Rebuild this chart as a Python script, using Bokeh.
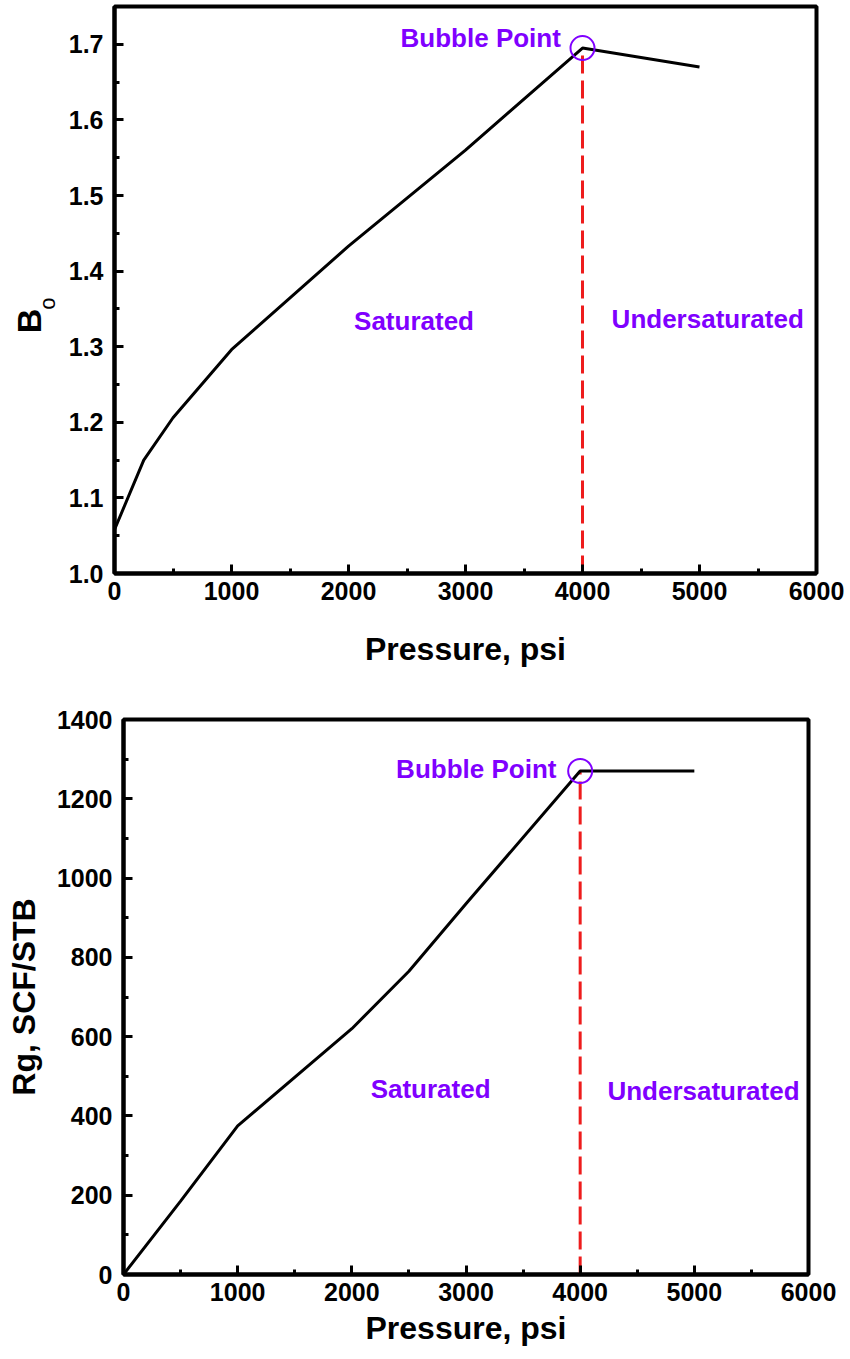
from bokeh.plotting import figure
from bokeh.layouts import column, row
from bokeh.models import FixedTicker, PrintfTickFormatter, Range1d
from bokeh.core.properties import value
from bokeh.embed import file_html
from bokeh.resources import INLINE

# Oil formation volume factor vs pressure
pressure_bo = [0, 250, 500, 1000, 2000, 3000, 4000, 5000]
bo_values = [1.058, 1.150, 1.206, 1.296, 1.433, 1.560, 1.695, 1.670]

# Solution gas-oil ratio vs pressure
pressure_rg = [0, 500, 1000, 2000, 2500, 3000, 4000, 5000]
rg_values = [0, 185, 375, 620, 765, 935, 1270, 1270]

# Bubble point
bubble_pressure = 4000
bubble_bo = 1.695
bubble_rg = 1270

# Tick positions
x_ticks = [0, 1000, 2000, 3000, 4000, 5000, 6000]
x_minor = [500, 1500, 2500, 3500, 4500, 5500]
bo_ticks = [1.0, 1.1, 1.2, 1.3, 1.4, 1.5, 1.6, 1.7]
bo_minor = [1.05, 1.15, 1.25, 1.35, 1.45, 1.55, 1.65]
rg_ticks = [0, 200, 400, 600, 800, 1000, 1200, 1400]
rg_minor = [100, 300, 500, 700, 900, 1100, 1300]

region_labels = ["Bubble Point", "Saturated", "Undersaturated"]

FONT = "Liberation Sans"
PURPLE = "#8000ff"
RED = "#ee1c1c"


def style(p, xt, xm, yt, ym, yfmt):
    p.outline_line_color = "black"
    p.outline_line_width = 4
    p.xgrid.visible = False
    p.ygrid.visible = False
    p.background_fill_color = "white"
    p.border_fill_color = "white"
    p.xaxis.ticker = FixedTicker(ticks=xt, minor_ticks=xm)
    p.yaxis.ticker = FixedTicker(ticks=yt, minor_ticks=ym)
    p.yaxis.formatter = PrintfTickFormatter(format=yfmt)
    for ax in (p.xaxis[0], p.yaxis[0]):
        ax.axis_line_width = 4
        ax.axis_line_color = "black"
        ax.major_tick_in = 9
        ax.major_tick_out = 0
        ax.major_tick_line_width = 3
        ax.minor_tick_in = 5
        ax.minor_tick_out = 0
        ax.minor_tick_line_width = 3
        ax.major_label_text_font = FONT
        ax.major_label_text_font_style = "bold"
        ax.major_label_text_font_size = "25px"
        ax.major_label_text_color = "black"
        ax.axis_label_text_font = FONT
        ax.axis_label_text_font_style = "bold"
        ax.axis_label_text_font_size = "32px"
        ax.axis_label_text_color = "black"
    p.xaxis.major_label_standoff = 8
    p.yaxis.major_label_standoff = 11


def purple_text(p, xs, ys, texts):
    p.text(x=xs, y=ys, text=texts, text_font=value(FONT), text_font_style="bold",
           text_font_size="26px", text_color=PURPLE, text_align="center",
           text_baseline="middle")


# ---- Bo chart ----
p1 = figure(width=785, height=680, output_backend="svg", toolbar_location=None,
            x_range=Range1d(0, 6000), y_range=Range1d(1.0, 1.75),
            min_border_left=44, min_border_right=34, min_border_top=6,
            min_border_bottom=107)
style(p1, x_ticks, x_minor, bo_ticks, bo_minor, "%.1f")
p1.xaxis.axis_label = "Pressure, psi"
p1.xaxis.axis_label_standoff = 28

p1.line([bubble_pressure, bubble_pressure], [1.0, bubble_bo], line_color=RED,
        line_width=3, line_dash="18 7")
p1.line(pressure_bo, bo_values, line_color="black", line_width=3)
p1.scatter([bubble_pressure], [bubble_bo], marker="circle", size=24,
           fill_color=None, line_color=PURPLE, line_width=2)
purple_text(p1, [3130, 2560, 5070], [1.708, 1.334, 1.337], region_labels)

# Narrow strip holding the rotated "B" with its subscript "o"
ylab = figure(width=65, height=680, output_backend="svg", toolbar_location=None,
              x_range=Range1d(0, 65), y_range=Range1d(1.0, 1.75),
              x_axis_location=None, y_axis_location=None,
              min_border_left=0, min_border_right=0, min_border_top=6,
              min_border_bottom=107)
ylab.outline_line_color = None
ylab.xgrid.visible = False
ylab.ygrid.visible = False
ylab.text(x=[28], y=[1.334], text=["B"], angle=1.5708, text_font=value(FONT),
          text_font_style="bold", text_font_size="34px", text_color="black",
          text_align="center", text_baseline="middle")
ylab.text(x=[47], y=[1.357], text=["o"], angle=1.5708, text_font=value(FONT),
          text_font_style="normal", text_font_size="22px", text_color="black",
          text_align="center", text_baseline="middle")

# ---- Rg chart ----
p2 = figure(width=850, height=679, output_backend="svg", toolbar_location=None,
            x_range=Range1d(0, 6000), y_range=Range1d(0, 1400),
            min_border_left=123, min_border_right=42, min_border_top=39,
            min_border_bottom=85)
style(p2, x_ticks, x_minor, rg_ticks, rg_minor, "%d")
p2.xaxis.axis_label = "Pressure, psi"
p2.xaxis.axis_label_standoff = 6
p2.yaxis.axis_label = "Rg, SCF/STB"
p2.yaxis.axis_label_standoff = 12

p2.line([bubble_pressure, bubble_pressure], [0, bubble_rg], line_color=RED,
        line_width=3, line_dash="18 7")
p2.line(pressure_rg, rg_values, line_color="black", line_width=3)
p2.scatter([bubble_pressure], [bubble_rg], marker="circle", size=24,
           fill_color=None, line_color=PURPLE, line_width=2)
purple_text(p2, [3090, 2690, 5080], [1275, 469, 462], region_labels)

layout = column(row(ylab, p1, spacing=0), p2, spacing=0)
open("out.html", "w").write(file_html(layout, INLINE))
